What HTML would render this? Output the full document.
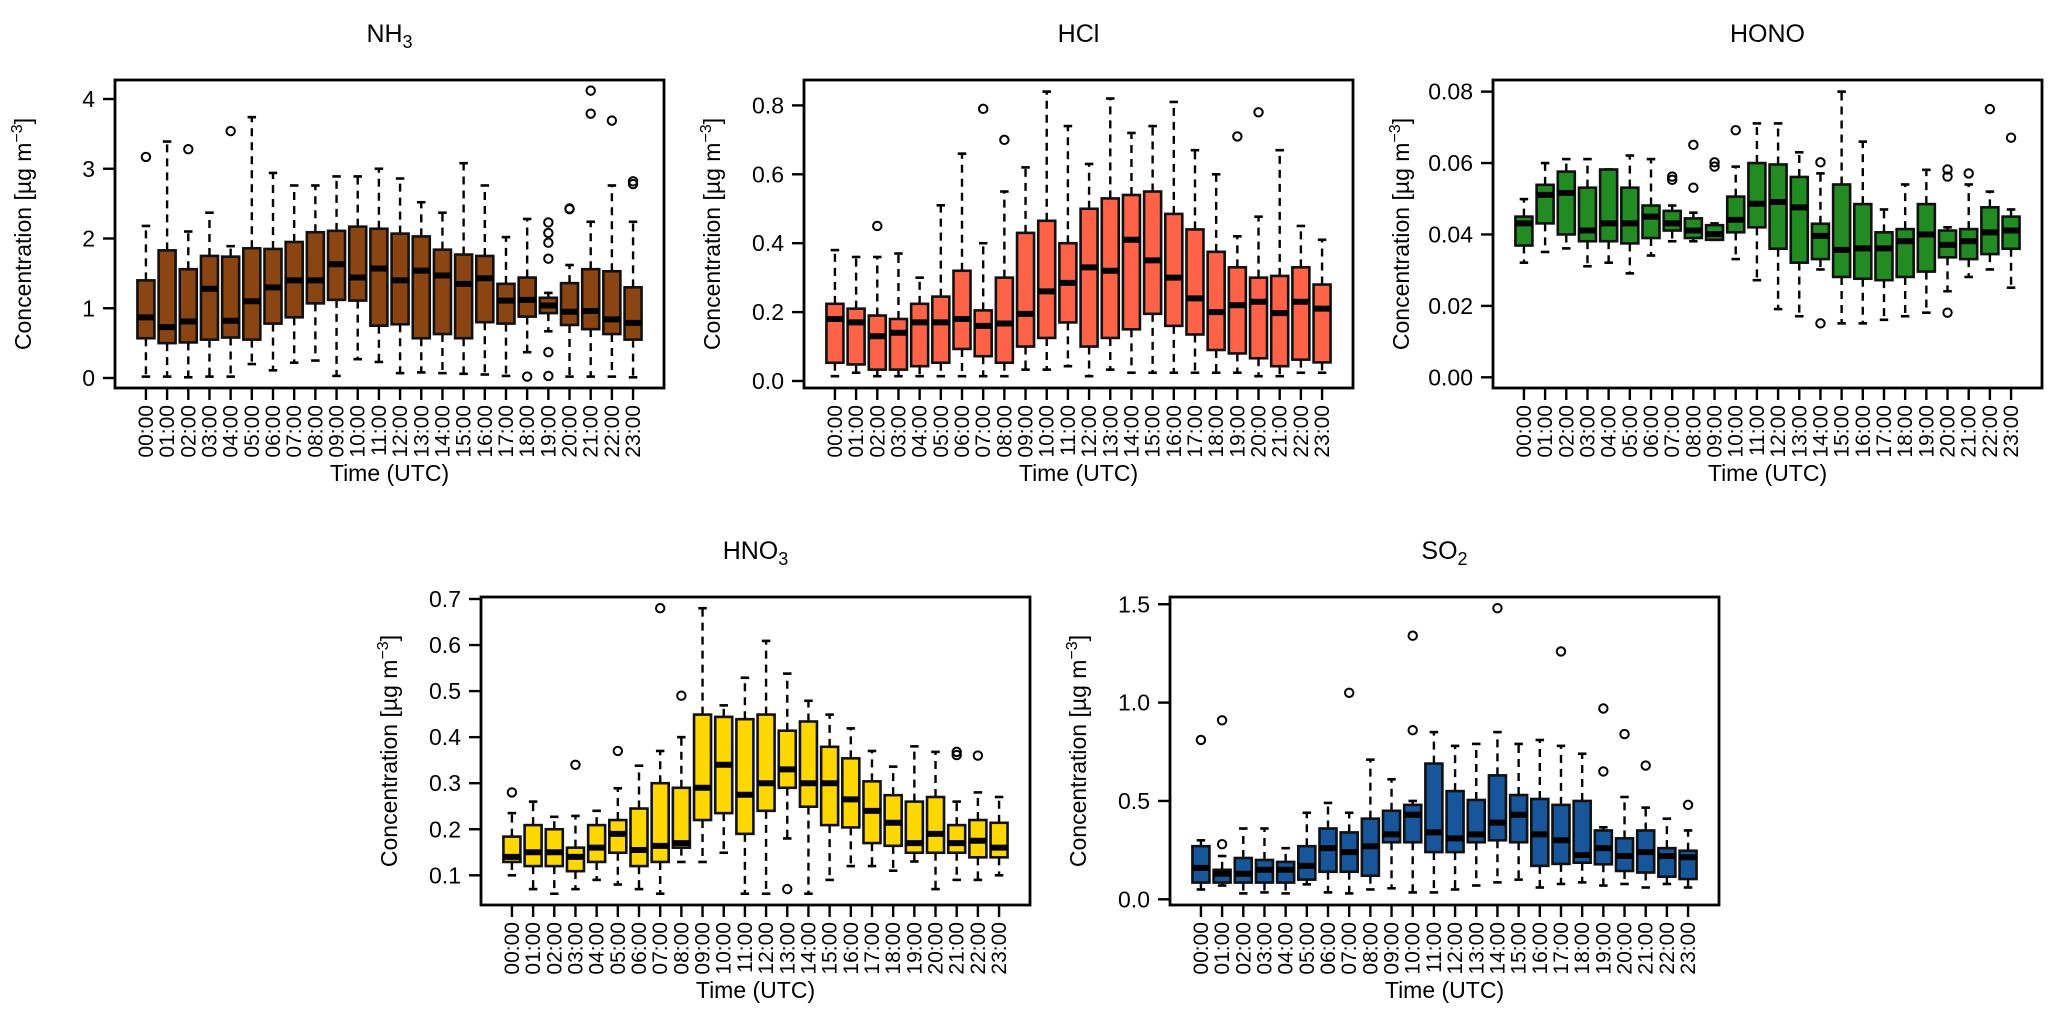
<!DOCTYPE html>
<html><head><meta charset="utf-8"><title>Diurnal boxplots</title>
<style>
html,body{margin:0;padding:0;background:#fff;}
svg{display:block;font-family:"Liberation Sans",Arial,sans-serif;}
</style></head>
<body>
<svg id="chart" width="2067" height="1019" viewBox="0 0 2067 1019" xmlns="http://www.w3.org/2000/svg"></svg>
<script>
const hours = ["00:00","01:00","02:00","03:00","04:00","05:00","06:00","07:00","08:00","09:00","10:00","11:00","12:00","13:00","14:00","15:00","16:00","17:00","18:00","19:00","20:00","21:00","22:00","23:00"];

// NH3
const nh3Lower = [0.02,0.02,0.01,0.02,0.02,0.20,0.11,0.22,0.25,0.03,0.27,0.23,0.07,0.08,0.07,0.06,0.05,0.03,0.37,0.67,0.02,0.02,0.02,0.01];
const nh3Q1 = [0.57,0.50,0.51,0.55,0.58,0.55,0.78,0.87,1.07,1.12,1.11,0.75,0.77,0.57,0.63,0.57,0.80,0.78,0.88,0.93,0.76,0.70,0.63,0.55];
const nh3Median = [0.87,0.73,0.81,1.28,0.82,1.10,1.30,1.40,1.40,1.63,1.44,1.57,1.40,1.54,1.47,1.35,1.43,1.11,1.12,1.04,0.95,0.96,0.84,0.79];
const nh3Q3 = [1.40,1.83,1.56,1.75,1.74,1.86,1.85,1.95,2.09,2.11,2.17,2.14,2.07,2.03,1.84,1.77,1.75,1.35,1.44,1.15,1.36,1.56,1.53,1.30];
const nh3Upper = [2.18,3.39,2.10,2.37,1.89,3.74,2.94,2.76,2.76,2.89,2.89,3.00,2.86,2.52,2.37,3.08,2.76,2.02,2.28,1.22,1.62,2.24,2.76,2.24];
const nh3Outliers = [[3.17],[],[3.28],[],[3.54],[],[],[],[],[],[],[],[],[],[],[],[],[],[0.02],[2.23,2.08,1.94,1.71,0.37,0.03],[2.43,2.42],[4.12,3.79],[3.69],[2.82,2.78]];
const nh3Ticks = [0,1,2,3,4];
const nh3TickLabels = ["0","1","2","3","4"];

// HCl
const hclLower = [0.014,0.024,0.014,0.014,0.014,0.014,0.014,0.014,0.014,0.033,0.033,0.043,0.014,0.033,0.024,0.024,0.024,0.024,0.024,0.024,0.014,0.014,0.024,0.024];
const hclQ1 = [0.053,0.048,0.033,0.033,0.043,0.053,0.093,0.072,0.053,0.10,0.125,0.17,0.10,0.125,0.15,0.195,0.16,0.135,0.09,0.08,0.066,0.043,0.062,0.054];
const hclMedian = [0.18,0.17,0.13,0.14,0.17,0.17,0.18,0.16,0.167,0.195,0.26,0.285,0.33,0.32,0.41,0.35,0.30,0.24,0.20,0.22,0.23,0.197,0.23,0.21];
const hclQ3 = [0.224,0.21,0.19,0.18,0.224,0.245,0.32,0.205,0.30,0.43,0.465,0.40,0.50,0.53,0.54,0.55,0.485,0.44,0.375,0.33,0.30,0.305,0.33,0.28];
const hclUpper = [0.38,0.36,0.36,0.37,0.30,0.51,0.66,0.40,0.55,0.62,0.84,0.74,0.63,0.82,0.72,0.74,0.81,0.67,0.60,0.42,0.477,0.67,0.45,0.41];
const hclOutliers = [[],[],[0.45],[],[],[],[],[0.79],[0.70],[],[],[],[],[],[],[],[],[],[],[0.71],[0.78],[],[],[]];
const hclTicks = [0,0.2,0.4,0.6,0.8];
const hclTickLabels = ["0.0","0.2","0.4","0.6","0.8"];

// HONO
const honoLower = [0.0321,0.0351,0.0361,0.0311,0.0321,0.0291,0.0341,0.0381,0.0381,0.0385,0.0331,0.0272,0.0191,0.0171,0.0302,0.0151,0.0151,0.0161,0.0171,0.0181,0.0241,0.0281,0.0302,0.0251];
const honoQ1 = [0.0369,0.0431,0.0400,0.0381,0.0381,0.0375,0.0390,0.0411,0.0390,0.0385,0.0406,0.0420,0.0360,0.0321,0.0331,0.0281,0.0276,0.0272,0.0281,0.0296,0.0336,0.0331,0.0345,0.0360];
const honoMedian = [0.0431,0.0511,0.0516,0.0411,0.0431,0.0431,0.0450,0.0431,0.0411,0.0401,0.0441,0.0486,0.0491,0.0476,0.0396,0.0357,0.0361,0.0361,0.0381,0.0400,0.0371,0.0381,0.0406,0.0411];
const honoQ3 = [0.0450,0.0539,0.0576,0.0531,0.0582,0.0531,0.0481,0.0466,0.0445,0.0426,0.0506,0.0600,0.0596,0.0561,0.0430,0.0540,0.0485,0.0406,0.0415,0.0485,0.0411,0.0415,0.0476,0.0450];
const honoUpper = [0.0499,0.0600,0.0611,0.0611,0.0582,0.0621,0.0611,0.0481,0.0461,0.0431,0.0590,0.0711,0.0711,0.0630,0.0571,0.0800,0.0660,0.0470,0.0540,0.0581,0.0420,0.0540,0.0520,0.0470];
const honoOutliers = [[],[],[],[],[],[],[],[0.0562,0.0553],[0.0651,0.0531],[0.0602,0.0590],[0.0692],[],[],[],[0.0602,0.0151],[],[],[],[],[],[0.0582,0.0562,0.0181],[0.0571],[0.0751],[0.0671]];
const honoTicks = [0,0.02,0.04,0.06,0.08];
const honoTickLabels = ["0.00","0.02","0.04","0.06","0.08"];

// HNO3
const hno3Lower = [0.10,0.07,0.06,0.07,0.09,0.08,0.07,0.06,0.129,0.129,0.149,0.06,0.06,0.18,0.06,0.09,0.12,0.12,0.11,0.13,0.07,0.09,0.09,0.10];
const hno3Q1 = [0.129,0.12,0.12,0.109,0.129,0.149,0.12,0.129,0.16,0.22,0.235,0.19,0.24,0.29,0.249,0.209,0.204,0.17,0.164,0.149,0.149,0.149,0.139,0.139];
const hno3Median = [0.14,0.15,0.15,0.14,0.16,0.19,0.155,0.164,0.17,0.29,0.34,0.275,0.30,0.33,0.30,0.30,0.265,0.24,0.214,0.17,0.19,0.17,0.175,0.16];
const hno3Q3 = [0.184,0.209,0.20,0.16,0.209,0.22,0.245,0.30,0.29,0.449,0.444,0.439,0.449,0.414,0.434,0.379,0.354,0.304,0.274,0.26,0.27,0.209,0.22,0.214];
const hno3Upper = [0.235,0.26,0.227,0.229,0.24,0.289,0.338,0.37,0.40,0.68,0.469,0.529,0.609,0.538,0.479,0.449,0.419,0.37,0.336,0.38,0.368,0.26,0.28,0.27];
const hno3Outliers = [[0.28],[],[],[0.34],[],[0.37],[],[0.68],[0.49],[],[],[],[],[0.07],[],[],[],[],[],[],[],[0.368,0.361],[0.36],[]];
const hno3Ticks = [0.1,0.2,0.3,0.4,0.5,0.6,0.7];
const hno3TickLabels = ["0.1","0.2","0.3","0.4","0.5","0.6","0.7"];

// SO2
const so2Lower = [0.05,0.07,0.03,0.035,0.03,0.076,0.035,0.03,0.05,0.056,0.035,0.035,0.05,0.07,0.086,0.10,0.06,0.078,0.086,0.07,0.078,0.06,0.078,0.06];
const so2Q1 = [0.085,0.085,0.085,0.085,0.085,0.10,0.14,0.14,0.12,0.29,0.29,0.24,0.24,0.29,0.30,0.29,0.17,0.18,0.186,0.178,0.144,0.136,0.115,0.103];
const so2Median = [0.16,0.13,0.13,0.15,0.15,0.17,0.26,0.24,0.27,0.33,0.43,0.34,0.31,0.33,0.39,0.43,0.33,0.30,0.225,0.26,0.22,0.24,0.22,0.214];
const so2Q3 = [0.27,0.15,0.21,0.20,0.19,0.27,0.36,0.34,0.41,0.45,0.48,0.69,0.55,0.505,0.63,0.53,0.51,0.48,0.50,0.35,0.31,0.35,0.26,0.247];
const so2Upper = [0.30,0.22,0.36,0.36,0.26,0.44,0.49,0.44,0.71,0.61,0.50,0.85,0.78,0.79,0.85,0.79,0.81,0.78,0.74,0.366,0.52,0.466,0.41,0.35];
const so2Outliers = [[0.81],[0.28,0.91],[],[],[],[],[],[1.05],[],[],[0.86,1.34],[],[],[],[1.48],[],[],[1.26],[],[0.97,0.65],[0.84],[0.68],[],[0.48]];
const so2Ticks = [0,0.5,1.0,1.5];
const so2TickLabels = ["0.0","0.5","1.0","1.5"];

const NS = "http://www.w3.org/2000/svg";
const svg = document.getElementById('chart');
function mk(tag, attrs, parent){
  const e = document.createElementNS(NS, tag);
  for (const k in attrs) e.setAttribute(k, attrs[k]);
  (parent||svg).appendChild(e);
  return e;
}

const panels = [
  {key:'nh3', sub:'3', base:'NH', x0:115, top:80, zeroY:378, v0:0, k:69.75, color:'#8B4513', lower:nh3Lower,q1:nh3Q1,med:nh3Median,q3:nh3Q3,upper:nh3Upper,out:nh3Outliers,ticks:nh3Ticks,labels:nh3TickLabels},
  {key:'hcl', sub:'', base:'HCl', x0:804, top:80, zeroY:381, v0:0, k:344.5, color:'#FF6347', lower:hclLower,q1:hclQ1,med:hclMedian,q3:hclQ3,upper:hclUpper,out:hclOutliers,ticks:hclTicks,labels:hclTickLabels},
  {key:'hono', sub:'', base:'HONO', x0:1493, top:80, zeroY:377.3, v0:0, k:3571, color:'#228B22', lower:honoLower,q1:honoQ1,med:honoMedian,q3:honoQ3,upper:honoUpper,out:honoOutliers,ticks:honoTicks,labels:honoTickLabels},
  {key:'hno3', sub:'3', base:'HNO', x0:481, top:597, zeroY:875.3, v0:0.1, k:460.5, color:'#FFD700', lower:hno3Lower,q1:hno3Q1,med:hno3Median,q3:hno3Q3,upper:hno3Upper,out:hno3Outliers,ticks:hno3Ticks,labels:hno3TickLabels},
  {key:'so2', sub:'2', base:'SO', x0:1170, top:597, zeroY:899.3, v0:0, k:196.7, color:'#17569B', lower:so2Lower,q1:so2Q1,med:so2Median,q3:so2Q3,upper:so2Upper,out:so2Outliers,ticks:so2Ticks,labels:so2TickLabels}
];

const W = 549, H = 308, unit = 21.18, boxW = 17, staple = 8.5;
const FS = 23;

panels.forEach(p => {
  const g = mk('g', {});
  
  
  const xOf = i => p.x0 + (i + 1 + 0.46) * unit;
  const yOf = v => p.zeroY - (v - p.v0) * p.k;
  const bottom = p.top + H;
  const cx = p.x0 + W/2;

  // title
  const t = mk('text', {x:cx, y:p.top-38, 'text-anchor':'middle', 'font-size':25, fill:'#000'}, g);
  
  
  t.textContent = p.base;
  if (p.sub) { const s = mk('tspan', {'font-size':18, dy:6}, t); s.textContent = p.sub; }

  // boxes
  for (let i = 0; i < hours.length; i++) {
    const x = xOf(i);
    const bg = mk('g', {}, g);
    
    
    const yl = yOf(p.lower[i]), y1 = yOf(p.q1[i]), ym = yOf(p.med[i]), y3 = yOf(p.q3[i]), yu = yOf(p.upper[i]);
    mk('line', {x1:x, x2:x, y1:y3, y2:yu, stroke:'#000','stroke-width':2.4,'stroke-dasharray':'8,6'}, bg);
    mk('line', {x1:x, x2:x, y1:y1, y2:yl, stroke:'#000','stroke-width':2.4,'stroke-dasharray':'8,6'}, bg);
    mk('line', {x1:x-staple/2, x2:x+staple/2, y1:yu, y2:yu, stroke:'#000','stroke-width':2.6}, bg);
    mk('line', {x1:x-staple/2, x2:x+staple/2, y1:yl, y2:yl, stroke:'#000','stroke-width':2.6}, bg);
    mk('rect', {x:x-boxW/2, y:y3, width:boxW, height:Math.max(0.5,y1-y3), fill:p.color, stroke:'#111','stroke-width':2.6}, bg);
    mk('line', {x1:x-boxW/2, x2:x+boxW/2, y1:ym, y2:ym, stroke:'#000','stroke-width':6}, bg);
    p.out[i].forEach(v => {
      const c = mk('circle', {cx:x, cy:yOf(v), r:4.2, fill:'none', stroke:'#000','stroke-width':2}, bg);
      
      
    });
  }

  // frame
  const fr = mk('rect', {x:p.x0, y:p.top, width:W, height:H, fill:'none', stroke:'#000', 'stroke-width':2.8}, g);
  
  

  // y axis
  const ya = mk('g', {}, g);
  
  
  p.ticks.forEach((v, j) => {
    const y = yOf(v);
    mk('line', {x1:p.x0-12, x2:p.x0, y1:y, y2:y, stroke:'#000','stroke-width':2.4}, ya);
    const tl = mk('text', {x:p.x0-20, y:y+8, 'text-anchor':'end', 'font-size':FS, fill:'#000'}, ya);
    tl.textContent = p.labels[j];
  });
  const yt = mk('text', {x:0, y:0, 'text-anchor':'middle', 'font-size':FS, fill:'#000', transform:`translate(${p.x0-84},${p.top+H/2}) rotate(-90)`}, g);
  
  
  yt.textContent = 'Concentration [µg m';
  const sup = mk('tspan', {'font-size':16, dy:-9}, yt); sup.textContent = '−3';
  const cl = mk('tspan', {dy:9}, yt); cl.textContent = ']';

  // x axis
  const xa = mk('g', {}, g);
  
  
  hours.forEach((h, i) => {
    const x = xOf(i);
    mk('line', {x1:x, x2:x, y1:bottom, y2:bottom+12, stroke:'#000','stroke-width':2.4}, xa);
    const tl = mk('text', {x:0, y:0, 'text-anchor':'end', 'font-size':21, fill:'#000'}, xa);
    tl.setAttribute('transform', `translate(${x+7},${bottom+17}) rotate(-90)`);
    tl.textContent = h;
  });
  const xt = mk('text', {x:cx, y:bottom+93, 'text-anchor':'middle', 'font-size':FS, fill:'#000'}, g);
  
  
  xt.textContent = 'Time (UTC)';
});
</script>
</body></html>
